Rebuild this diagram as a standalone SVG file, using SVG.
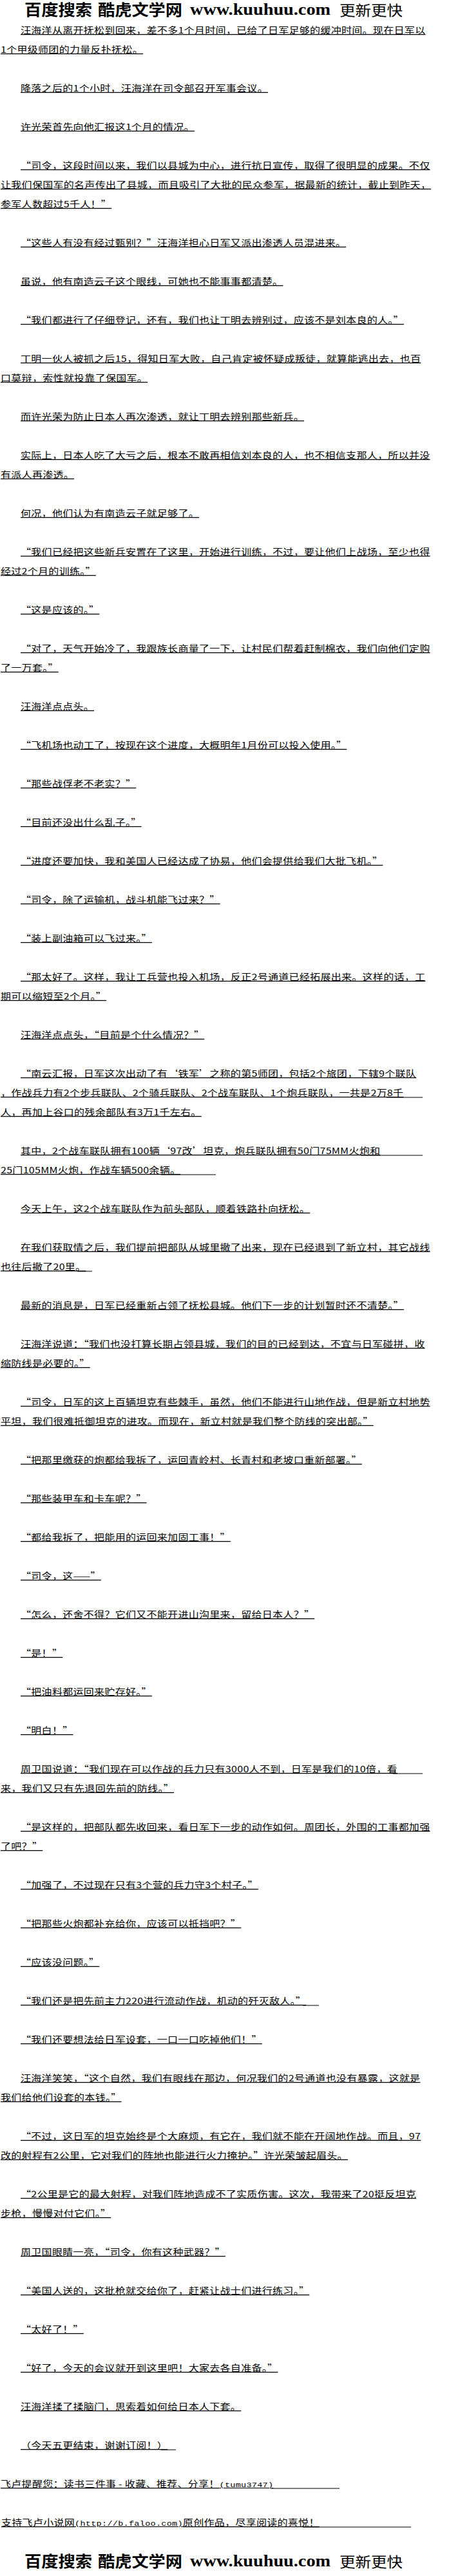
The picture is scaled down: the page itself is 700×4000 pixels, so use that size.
<svg xmlns="http://www.w3.org/2000/svg" width="700" height="4000" viewBox="0 0 700 4000">
<style>
.t{font-family:"Noto Sans CJK SC","Liberation Sans",sans-serif;font-size:16px;letter-spacing:0.3px;fill:#000;text-decoration:underline;text-decoration-thickness:1.3px;}
.m{font-family:"Liberation Mono",monospace;font-size:13.5px;}
.u{stroke:#000;stroke-width:1;fill:none;}
.bz{font-family:"Noto Sans CJK SC",sans-serif;font-weight:bold;font-size:24px;fill:#000;}
.bl{font-family:"Noto Sans CJK SC",sans-serif;font-weight:normal;font-size:22px;fill:#000;}
.bw{font-family:"Liberation Serif",serif;font-weight:bold;font-size:26px;fill:#000;}
</style>
<rect x="0" y="0" width="700" height="4000" fill="#fff"/>
<g id="header">
<text class="bz" x="38" y="24" textLength="105" lengthAdjust="spacingAndGlyphs">百度搜索</text>
<text class="bz" x="152" y="24" textLength="131" lengthAdjust="spacingAndGlyphs">酷虎文学网</text>
<text class="bw" x="295" y="23" textLength="218" lengthAdjust="spacingAndGlyphs">www.kuuhuu.com</text>
<text class="bl" x="527" y="24" textLength="98" lengthAdjust="spacingAndGlyphs">更新更快</text>
</g>
<g id="body">
<text class="t" transform="translate(32,52)scale(1,.82)">汪海洋从离开抚松到回来，差不多1个月时间，已给了日军足够的缓冲时间。现在日军以</text>
<text class="t" transform="translate(1,82)scale(1,.82)">1个甲级师团的力量反扑抚松。</text>
<text class="t" transform="translate(32,142)scale(1,.82)">降落之后的1个小时，汪海洋在司令部召开军事会议。</text>
<text class="t" transform="translate(32,202)scale(1,.82)">许光荣首先向他汇报这1个月的情况。</text>
<text class="t" transform="translate(32,262)scale(1,.82)">“司令，这段时间以来，我们以县城为中心，进行抗日宣传，取得了很明显的成果。不仅</text>
<text class="t" transform="translate(1,292)scale(1,.82)">让我们保国军的名声传出了县城，而且吸引了大批的民众参军，据最新的统计，截止到昨天，</text>
<text class="t" transform="translate(1,322)scale(1,.82)">参军人数超过5千人！”</text>
<text class="t" transform="translate(32,382)scale(1,.82)">“这些人有没有经过甄别？”汪海洋担心日军又派出渗透人员混进来。</text>
<text class="t" transform="translate(32,442)scale(1,.82)">虽说，他有南造云子这个眼线，可她也不能事事都清楚。</text>
<text class="t" transform="translate(32,502)scale(1,.82)">“我们都进行了仔细登记，还有，我们也让丁明去辨别过，应该不是刘本良的人。”</text>
<text class="t" transform="translate(32,562)scale(1,.82)">丁明一伙人被抓之后15，得知日军大败，自己肯定被怀疑成叛徒，就算能逃出去，也百</text>
<text class="t" transform="translate(1,592)scale(1,.82)">口莫辩，索性就投靠了保国军。</text>
<text class="t" transform="translate(32,652)scale(1,.82)">而许光荣为防止日本人再次渗透，就让丁明去辨别那些新兵。</text>
<text class="t" transform="translate(32,712)scale(1,.82)">实际上，日本人吃了大亏之后，根本不敢再相信刘本良的人，也不相信支那人，所以并没</text>
<text class="t" transform="translate(1,742)scale(1,.82)">有派人再渗透。</text>
<text class="t" transform="translate(32,802)scale(1,.82)">何况，他们认为有南造云子就足够了。</text>
<text class="t" transform="translate(32,862)scale(1,.82)">“我们已经把这些新兵安置在了这里，开始进行训练，不过，要让他们上战场，至少也得</text>
<text class="t" transform="translate(1,892)scale(1,.82)">经过2个月的训练。”</text>
<text class="t" transform="translate(32,952)scale(1,.82)">“这是应该的。”</text>
<text class="t" transform="translate(32,1012)scale(1,.82)">“对了，天气开始冷了，我跟族长商量了一下，让村民们帮着赶制棉衣，我们向他们定购</text>
<text class="t" transform="translate(1,1042)scale(1,.82)">了一万套。”</text>
<text class="t" transform="translate(32,1102)scale(1,.82)">汪海洋点点头。</text>
<text class="t" transform="translate(32,1162)scale(1,.82)">“飞机场也动工了，按现在这个进度，大概明年1月份可以投入使用。”</text>
<text class="t" transform="translate(32,1222)scale(1,.82)">“那些战俘老不老实？”</text>
<text class="t" transform="translate(32,1282)scale(1,.82)">“目前还没出什么乱子。”</text>
<text class="t" transform="translate(32,1342)scale(1,.82)">“进度还要加快，我和美国人已经达成了协易，他们会提供给我们大批飞机。”</text>
<text class="t" transform="translate(32,1402)scale(1,.82)">“司令，除了运输机，战斗机能飞过来？”</text>
<text class="t" transform="translate(32,1462)scale(1,.82)">“装上副油箱可以飞过来。”</text>
<text class="t" transform="translate(32,1522)scale(1,.82)">“那太好了。这样，我让工兵营也投入机场，反正2号通道已经拓展出来。这样的话，工</text>
<text class="t" transform="translate(1,1552)scale(1,.82)">期可以缩短至2个月。”</text>
<text class="t" transform="translate(32,1612)scale(1,.82)">汪海洋点点头，“目前是个什么情况？”</text>
<text class="t" transform="translate(32,1672)scale(1,.82)">“南云汇报，日军这次出动了有‘铁军’之称的第5师团，包括2个旅团，下辖9个联队</text>
<text class="t" transform="translate(1,1702)scale(1,.82)">，作战兵力有2个步兵联队、2个骑兵联队、2个战车联队、1个炮兵联队，一共是2万8千</text>
<text class="t" transform="translate(1,1732)scale(1,.82)">人，再加上谷口的残余部队有3万1千左右。</text>
<text class="t" transform="translate(32,1792)scale(1,.82)">其中，2个战车联队拥有100辆‘97改’坦克，炮兵联队拥有50门75MM火炮和</text>
<text class="t" transform="translate(1,1822)scale(1,.82)">25门105MM火炮，作战车辆500余辆。</text>
<text class="t" transform="translate(32,1882)scale(1,.82)">今天上午，这2个战车联队作为前头部队，顺着铁路扑向抚松。</text>
<text class="t" transform="translate(32,1942)scale(1,.82)">在我们获取情之后，我们提前把部队从城里撤了出来，现在已经退到了新立村，其它战线</text>
<text class="t" transform="translate(1,1972)scale(1,.82)">也往后撤了20里。</text>
<text class="t" transform="translate(32,2032)scale(1,.82)">最新的消息是，日军已经重新占领了抚松县城。他们下一步的计划暂时还不清楚。”</text>
<text class="t" transform="translate(32,2092)scale(1,.82)">汪海洋说道：“我们也没打算长期占领县城，我们的目的已经到达，不宜与日军碰拼，收</text>
<text class="t" transform="translate(1,2122)scale(1,.82)">缩防线是必要的。”</text>
<text class="t" transform="translate(32,2182)scale(1,.82)">“司令，日军的这上百辆坦克有些棘手，虽然，他们不能进行山地作战，但是新立村地势</text>
<text class="t" transform="translate(1,2212)scale(1,.82)">平坦，我们很难抵御坦克的进攻。而现在，新立村就是我们整个防线的突出部。”</text>
<text class="t" transform="translate(32,2272)scale(1,.82)">“把那里缴获的炮都给我拆了，运回青岭村、长青村和老坡口重新部署。”</text>
<text class="t" transform="translate(32,2332)scale(1,.82)">“那些装甲车和卡车呢？”</text>
<text class="t" transform="translate(32,2392)scale(1,.82)">“都给我拆了，把能用的运回来加固工事！”</text>
<text class="t" transform="translate(32,2452)scale(1,.82)">“司令，这——”</text>
<text class="t" transform="translate(32,2512)scale(1,.82)">“怎么，还舍不得？它们又不能开进山沟里来，留给日本人？”</text>
<text class="t" transform="translate(32,2572)scale(1,.82)">“是！”</text>
<text class="t" transform="translate(32,2632)scale(1,.82)">“把油料都运回来贮存好。”</text>
<text class="t" transform="translate(32,2692)scale(1,.82)">“明白！”</text>
<text class="t" transform="translate(32,2752)scale(1,.82)">周卫国说道：“我们现在可以作战的兵力只有3000人不到，日军是我们的10倍，看</text>
<text class="t" transform="translate(1,2782)scale(1,.82)">来，我们又只有先退回先前的防线。”</text>
<text class="t" transform="translate(32,2842)scale(1,.82)">“是这样的，把部队都先收回来，看日军下一步的动作如何。周团长，外围的工事都加强</text>
<text class="t" transform="translate(1,2872)scale(1,.82)">了吧？”</text>
<text class="t" transform="translate(32,2932)scale(1,.82)">“加强了，不过现在只有3个营的兵力守3个村子。”</text>
<text class="t" transform="translate(32,2992)scale(1,.82)">“把那些火炮都补充给你，应该可以抵挡吧？”</text>
<text class="t" transform="translate(32,3052)scale(1,.82)">“应该没问题。”</text>
<text class="t" transform="translate(32,3112)scale(1,.82)">“我们还是把先前主力220进行流动作战，机动的歼灭敌人。”</text>
<text class="t" transform="translate(32,3172)scale(1,.82)">“我们还要想法给日军设套，一口一口吃掉他们！”</text>
<text class="t" transform="translate(32,3232)scale(1,.82)">汪海洋笑笑，“这个自然，我们有眼线在那边，何况我们的2号通道也没有暴露，这就是</text>
<text class="t" transform="translate(1,3262)scale(1,.82)">我们给他们设套的本钱。”</text>
<text class="t" transform="translate(32,3322)scale(1,.82)">“不过，这日军的坦克始终是个大麻烦，有它在，我们就不能在开阔地作战。而且，97</text>
<text class="t" transform="translate(1,3352)scale(1,.82)">改的射程有2公里，它对我们的阵地也能进行火力掩护。”许光荣皱起眉头。</text>
<text class="t" transform="translate(32,3412)scale(1,.82)">“2公里是它的最大射程，对我们阵地造成不了实质伤害。这次，我带来了20挺反坦克</text>
<text class="t" transform="translate(1,3442)scale(1,.82)">步枪，慢慢对付它们。”</text>
<text class="t" transform="translate(32,3502)scale(1,.82)">周卫国眼睛一亮，“司令，你有这种武器？”</text>
<text class="t" transform="translate(32,3562)scale(1,.82)">“美国人送的，这批枪就交给你了，赶紧让战士们进行练习。”</text>
<text class="t" transform="translate(32,3622)scale(1,.82)">“太好了！”</text>
<text class="t" transform="translate(32,3682)scale(1,.82)">“好了，今天的会议就开到这里吧！大家去各自准备。”</text>
<text class="t" transform="translate(32,3742)scale(1,.82)">汪海洋揉了揉脑门，思索着如何给日本人下套。</text>
<text class="t" transform="translate(32,3802)scale(1,.82)">（今天五更结束，谢谢订阅！）</text>
<text class="t" transform="translate(1,3862)scale(1,.82)">飞卢提醒您：读书三件事 - 收藏、推荐、分享！<tspan class="m">(tumu3747)</tspan></text>
<text class="t" transform="translate(2,3922)scale(1,.82)">支持飞卢小说网<tspan class="m">(http://b.faloo.com)</tspan>原创作品，尽享阅读的喜悦！</text>
</g>
<g id="underline-tails">
<line class="u" x1="600" y1="1704" x2="656" y2="1704"/>
<line class="u" x1="560" y1="1794" x2="656" y2="1794"/>
<line class="u" x1="250" y1="1824" x2="335" y2="1824"/>
<line class="u" x1="120" y1="1974" x2="143" y2="1974"/>
<line class="u" x1="610" y1="2754" x2="656" y2="2754"/>
<line class="u" x1="470" y1="3114" x2="495" y2="3114"/>
<line class="u" x1="250" y1="3804" x2="273" y2="3804"/>
<line class="u" x1="420" y1="3864" x2="527" y2="3864"/>
<line class="u" x1="470" y1="3924" x2="638" y2="3924"/>
</g>
<g id="footer">
<text class="bz" x="38" y="3986" textLength="105" lengthAdjust="spacingAndGlyphs">百度搜索</text>
<text class="bz" x="152" y="3986" textLength="131" lengthAdjust="spacingAndGlyphs">酷虎文学网</text>
<text class="bw" x="295" y="3985" textLength="218" lengthAdjust="spacingAndGlyphs">www.kuuhuu.com</text>
<text class="bl" x="527" y="3986" textLength="98" lengthAdjust="spacingAndGlyphs">更新更快</text>
</g>
</svg>
